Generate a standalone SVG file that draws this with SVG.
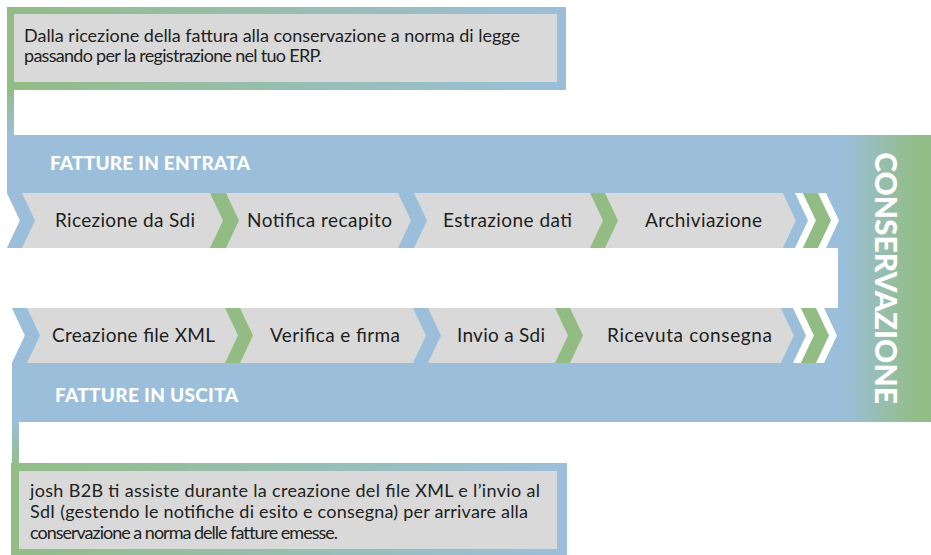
<svg xmlns="http://www.w3.org/2000/svg" width="931" height="555" viewBox="0 0 931 555">
<defs>
<linearGradient id="frameGrad" x1="0" y1="0" x2="1" y2="0">
<stop offset="0" stop-color="#92bd86"/>
<stop offset="1" stop-color="#9bbfdb"/>
</linearGradient>
<linearGradient id="barDown" x1="0" y1="0" x2="0" y2="1">
<stop offset="0" stop-color="#92bd86"/>
<stop offset="1" stop-color="#9bbfdb"/>
</linearGradient>
<linearGradient id="barUp" x1="0" y1="0" x2="0" y2="1">
<stop offset="0" stop-color="#9bbfdb"/>
<stop offset="1" stop-color="#92bd86"/>
</linearGradient>
<linearGradient id="bandGrad" gradientUnits="userSpaceOnUse" x1="0" y1="0" x2="931" y2="0">
<stop offset="0.905" stop-color="#9bbfdb"/>
<stop offset="0.985" stop-color="#92bd86"/>
</linearGradient>
</defs>
<style>
.gray{fill:#d9d9d9}
.blue{fill:#9bbfdb}
.green{fill:#93bc85}
.white{fill:#ffffff}
.body{font-family:Lato,"Liberation Sans",sans-serif;font-size:18px;fill:#222222}
.step{font-family:Lato,"Liberation Sans",sans-serif;font-size:19px;fill:#1e1e1e;text-anchor:middle}
.head{font-family:Lato,"Liberation Sans",sans-serif;font-size:19px;font-weight:900;fill:#ffffff}
.cons{font-family:Lato,"Liberation Sans",sans-serif;font-size:30px;font-weight:900;fill:#ffffff;text-anchor:middle}
</style>

<g id="connectors">
<rect x="7" y="90" width="7" height="46" fill="url(#barDown)"/>
<rect x="12" y="421" width="7" height="43" fill="url(#barUp)"/>
</g>

<g id="intro-box">
<rect x="7" y="7" width="559" height="83" fill="url(#frameGrad)"/>
<rect class="gray" x="14" y="14" width="543" height="68"/>
<text class="body" x="24" y="42" textLength="496">Dalla ricezione della fattura alla conservazione a norma di legge</text>
<text class="body" x="24" y="62" textLength="298">passando per la registrazione nel tuo ERP.</text>
</g>

<g id="band">
<path d="M7 135 H931 V422 H12 V308 H838 V248 H7 Z" fill="url(#bandGrad)"/>
<text class="head" x="50" y="170" textLength="200">FATTURE IN ENTRATA</text>
<text class="head" x="55" y="402" textLength="183">FATTURE IN USCITA</text>
</g>

<g id="conservazione">
<text class="cons" transform="translate(875 278) rotate(90)">CONSERVAZIONE</text>
</g>

<g id="row-entrata">
<polygon class="gray" points="7,193 783,193 796,220.5 783,248 7,248 20,220.5"/>
<polygon class="white" points="7,193 20,220.5 7,248"/>
<polygon class="blue" points="7,193 22,193 35,220.5 22,248 7,248 20,220.5"/>
<polygon class="green" points="210,193 226,193 239,220.5 226,248 210,248 223,220.5"/>
<polygon class="blue" points="398,193 414,193 427,220.5 414,248 398,248 411,220.5"/>
<polygon class="green" points="590,193 605,193 618,220.5 605,248 590,248 603,220.5"/>
<polygon class="blue" points="783,193 795,193 808,220.5 795,248 783,248 796,220.5"/>
<polygon class="white" points="795,193 803,193 816,220.5 803,248 795,248 808,220.5"/>
<polygon class="green" points="803,193 818,193 831,220.5 818,248 803,248 816,220.5"/>
<polygon class="white" points="818,193 826,193 839,220.5 826,248 818,248 831,220.5"/>
<text class="step" x="125" y="227" textLength="140">Ricezione da Sdi</text>
<text class="step" x="319.5" y="227" textLength="145">Notifica recapito</text>
<text class="step" x="507.5" y="227" textLength="129">Estrazione dati</text>
<text class="step" x="703.5" y="227" textLength="117">Archiviazione</text>
</g>

<g id="row-uscita">
<polygon class="gray" points="12,308 781,308 794,335.5 781,363 12,363 25,335.5"/>
<polygon class="white" points="12,308 25,335.5 12,363"/>
<polygon class="blue" points="12,308 27,308 40,335.5 27,363 12,363 25,335.5"/>
<polygon class="green" points="225,308 240,308 253,335.5 240,363 225,363 238,335.5"/>
<polygon class="blue" points="413,308 428,308 441,335.5 428,363 413,363 426,335.5"/>
<polygon class="green" points="555,308 570,308 583,335.5 570,363 555,363 568,335.5"/>
<polygon class="blue" points="781,308 793,308 806,335.5 793,363 781,363 794,335.5"/>
<polygon class="white" points="793,308 801,308 814,335.5 801,363 793,363 806,335.5"/>
<polygon class="green" points="801,308 816,308 829,335.5 816,363 801,363 814,335.5"/>
<polygon class="white" points="816,308 824,308 837,335.5 824,363 816,363 829,335.5"/>
<text class="step" x="133.5" y="342" textLength="163">Creazione file XML</text>
<text class="step" x="335" y="342" textLength="130">Verifica e firma</text>
<text class="step" x="501" y="342" textLength="88">Invio a Sdi</text>
<text class="step" x="689.5" y="342" textLength="165">Ricevuta consegna</text>
</g>

<g id="outro-box">
<rect x="11" y="463" width="556" height="92" fill="url(#frameGrad)"/>
<rect class="gray" x="19" y="471" width="538" height="78"/>
<text class="body" x="30" y="497" textLength="510">josh B2B ti assiste durante la creazione del file XML e l’invio al</text>
<text class="body" x="30" y="518" textLength="498">SdI (gestendo le notifiche di esito e consegna) per arrivare alla</text>
<text class="body" x="30" y="539" textLength="308">conservazione a norma delle fatture emesse.</text>
</g>
</svg>
